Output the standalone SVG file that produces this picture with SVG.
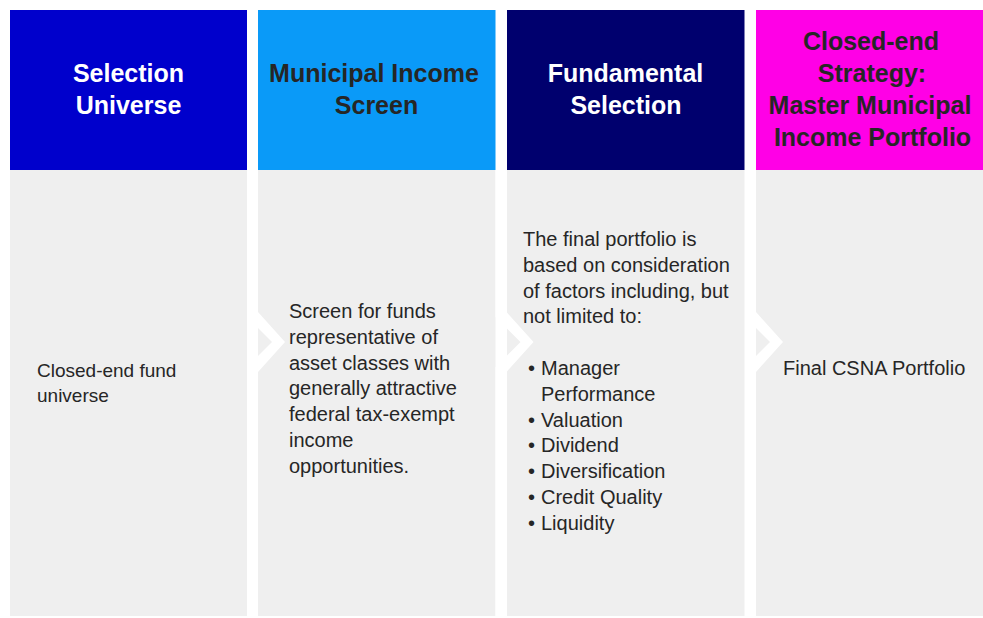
<svg xmlns="http://www.w3.org/2000/svg" width="983" height="618" viewBox="0 0 983 618">
<style>
.body{fill:#EFEFEF}
.h{font-family:"Liberation Sans",Arial,sans-serif;font-weight:bold;font-size:25px;text-anchor:middle}
.hw{fill:#FFFFFF}
.hd{fill:#262626}
.t{font-family:"Liberation Sans",Arial,sans-serif;font-size:20px;fill:#262626}
.chev{fill:#FFFFFF}
</style>
<defs>
<polygon id="chev" class="chev" points="247,170 258,170 258,312 285,342 258,372 258,618 247,618 247,367 272,342 247,317"/>
</defs>
<rect x="0" y="0" width="983" height="618" fill="#FFFFFF"/>
<g id="col1">
<rect x="10" y="10" width="237" height="160" fill="#0000CC"/>
<rect class="body" x="10" y="170" width="237" height="446"/>
<text class="h hw" x="128.5"><tspan x="128.5" y="82">Selection</tspan><tspan x="128.5" y="114">Universe</tspan></text>
<text class="t" style="font-size:19px"><tspan x="37" y="377">Closed-end fund</tspan><tspan x="37" y="402">universe</tspan></text>
</g>
<g id="col2">
<rect x="258" y="10" width="237.5" height="160" fill="#0A9AF8"/>
<rect class="body" x="258" y="170" width="237.5" height="446"/>
<text class="h hd"><tspan x="374" y="82">Municipal Income</tspan><tspan x="376.5" y="114">Screen</tspan></text>
<text class="t"><tspan x="289" y="318">Screen for funds</tspan><tspan x="289" y="343.8">representative of</tspan><tspan x="289" y="369.6">asset classes with</tspan><tspan x="289" y="395.4">generally attractive</tspan><tspan x="289" y="421.2">federal tax-exempt</tspan><tspan x="289" y="447">income</tspan><tspan x="289" y="472.8">opportunities.</tspan></text>
</g>
<g id="col3">
<rect x="507" y="10" width="237.5" height="160" fill="#00006E"/>
<rect class="body" x="507" y="170" width="237.5" height="446"/>
<text class="h hw"><tspan x="625.5" y="82">Fundamental</tspan><tspan x="626" y="114">Selection</tspan></text>
<text class="t"><tspan x="523" y="246">The final portfolio is</tspan><tspan x="523" y="271.8">based on consideration</tspan><tspan x="523" y="297.6">of factors including, but</tspan><tspan x="523" y="323.4">not limited to:</tspan></text>
<text class="t"><tspan x="528" y="375">•</tspan><tspan x="541" y="375">Manager</tspan><tspan x="541" y="400.8">Performance</tspan><tspan x="528" y="426.6">•</tspan><tspan x="541" y="426.6">Valuation</tspan><tspan x="528" y="452.4">•</tspan><tspan x="541" y="452.4">Dividend</tspan><tspan x="528" y="478.2">•</tspan><tspan x="541" y="478.2">Diversification</tspan><tspan x="528" y="504">•</tspan><tspan x="541" y="504">Credit Quality</tspan><tspan x="528" y="529.8">•</tspan><tspan x="541" y="529.8">Liquidity</tspan></text>
</g>
<g id="col4">
<rect x="756" y="10" width="227" height="160" fill="#FF00E6"/>
<rect class="body" x="756" y="170" width="227" height="446"/>
<text class="h hd"><tspan x="871" y="50">Closed-end</tspan><tspan x="872" y="82">Strategy:</tspan><tspan x="870" y="114">Master Municipal</tspan><tspan x="872.5" y="146">Income Portfolio</tspan></text>
<text class="t"><tspan x="783" y="375">Final CSNA Portfolio</tspan></text>
</g>
<g id="connectors">
<use href="#chev"/>
<use href="#chev" transform="translate(248.5,0)"/>
<use href="#chev" transform="translate(498,0)"/>
</g>
</svg>
